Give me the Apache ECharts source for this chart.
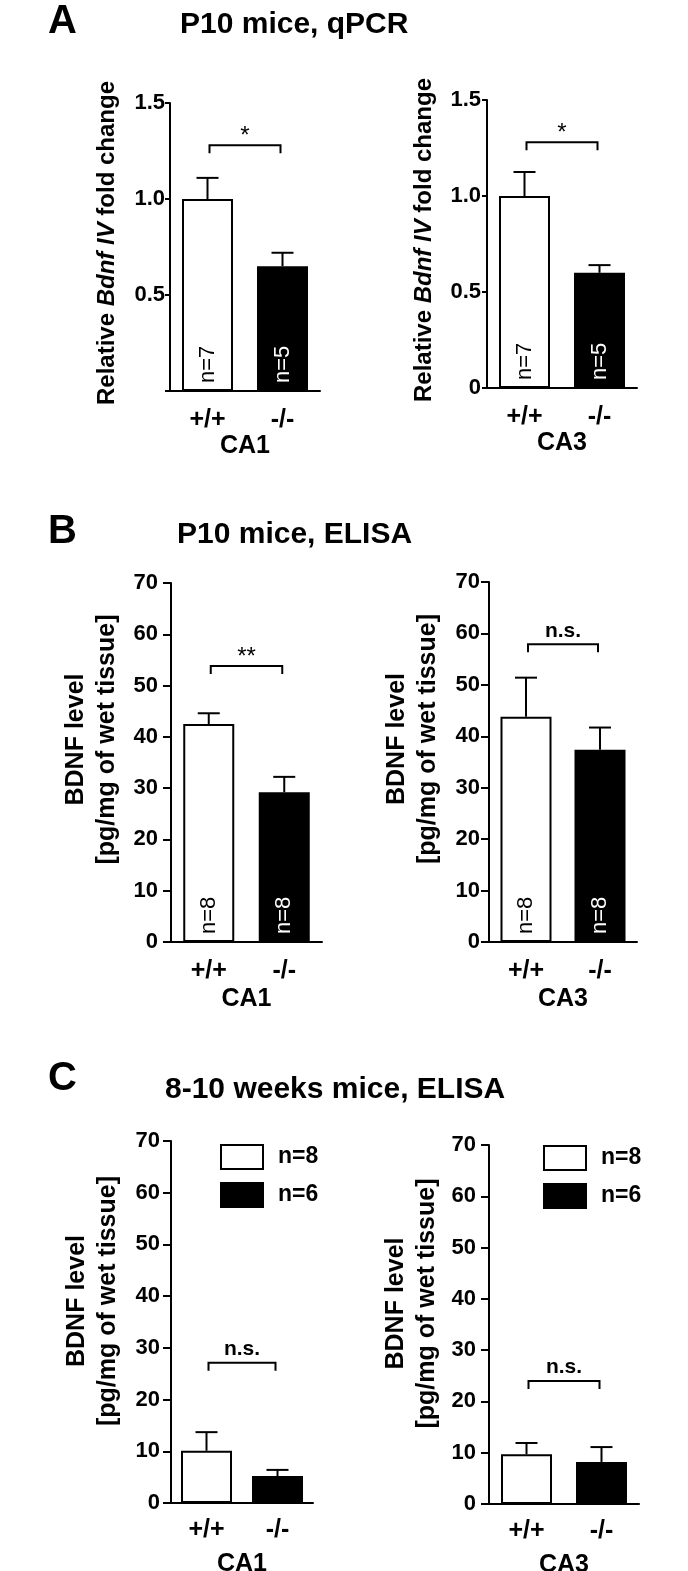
<!DOCTYPE html>
<html>
<head>
<meta charset="utf-8">
<script src="https://cdn.jsdelivr.net/npm/echarts@6/dist/echarts.min.js"></script>
<style>
html,body{margin:0;padding:0;background:#fff;}
#c{width:688px;height:1571px;}
</style>
</head>
<body>
<div id="c"></div>
<script>
// ---------- data ----------
const genotypes = ['+/+', '-/-'];
const regions = ['CA1', 'CA3'];
const panelLetters = ['A', 'B', 'C'];
const panelTitles = ['P10 mice, qPCR', 'P10 mice, ELISA', '8-10 weeks mice, ELISA'];

// qPCR (relative Bdnf IV fold change), [CA1, CA3]
const qpcrWT = [1.00, 1.00];
const qpcrWTsem = [0.11, 0.125];
const qpcrKO = [0.65, 0.60];
const qpcrKOsem = [0.07, 0.04];
const qpcrN = [[7, 5], [7, 5]];
const qpcrSig = ['*', '*'];
const qpcrSigY = [1.28, 1.28];
const qpcrTicks = [0, 0.5, 1.0, 1.5];

// P10 ELISA (pg/mg of wet tissue), [CA1, CA3]
const p10WT = [42.5, 43.8];
const p10WTsem = [2.1, 7.6];
const p10KO = [29.2, 37.4];
const p10KOsem = [3.0, 4.3];
const p10N = [[8, 8], [8, 8]];
const p10Sig = ['**', 'n.s.'];
const p10SigY = [53.8, 57.9];

// 8-10 weeks ELISA, [CA1, CA3]
const adultWT = [10.1, 9.7];
const adultWTsem = [3.6, 2.2];
const adultKO = [5.2, 8.2];
const adultKOsem = [1.2, 2.9];
const adultLegend = ['n=8', 'n=6'];
const adultSig = ['n.s.', 'n.s.'];
const adultSigY = [27.1, 24.0];
const elisaTicks = [0, 10, 20, 30, 40, 50, 60, 70];

// ---------- layout ----------
const FONT = 'Liberation Sans, Arial, Helvetica, sans-serif';
const grids = [
  {left: 170, top: 103, width: 150, height: 288},
  {left: 487, top: 100, width: 150, height: 288},
  {left: 171, top: 583, width: 151, height: 359},
  {left: 489, top: 582, width: 148, height: 360},
  {left: 171, top: 1141, width: 142, height: 362},
  {left: 489, top: 1145, width: 150, height: 359}
];

const panels = [];
for (let r = 0; r < 2; r++) panels.push({ticks: qpcrTicks, wt: qpcrWT[r], wtS: qpcrWTsem[r], ko: qpcrKO[r], koS: qpcrKOsem[r], n: qpcrN[r], sig: qpcrSig[r], sigY: qpcrSigY[r], region: regions[r], kind: 'q', hideZero: r === 0});
for (let r = 0; r < 2; r++) panels.push({ticks: elisaTicks, wt: p10WT[r], wtS: p10WTsem[r], ko: p10KO[r], koS: p10KOsem[r], n: p10N[r], sig: p10Sig[r], sigY: p10SigY[r], region: regions[r], kind: 'e'});
for (let r = 0; r < 2; r++) panels.push({ticks: elisaTicks, wt: adultWT[r], wtS: adultWTsem[r], ko: adultKO[r], koS: adultKOsem[r], n: null, sig: adultSig[r], sigY: adultSigY[r], region: regions[r], kind: 'e', legend: true});

const xNameGap = [40, 40, 45, 45, 49, 49];
const xLabelMargin = [17, 17, 17, 17, 15, 15];
const yNameGap = [51, 51, 48, 45, 47, 46];
const yNameShift = [8, 8, 46, 46, 42, 42];
const yLabelMargin = [5, 6, 13, 9, 11, 13];
const yTickLen = [5, 5, 8, 8, 8, 8];

const option = {
  animation: false,
  backgroundColor: '#fff',
  textStyle: {fontFamily: FONT, color: '#000'},
  grid: grids.map(g => Object.assign({containLabel: false, outerBoundsMode: 'none'}, g)),
  xAxis: [], yAxis: [], series: [],
  legend: [],
  graphic: []
};

panels.forEach((p, i) => {
  const tmin = p.ticks[0], tmax = p.ticks[p.ticks.length - 1], step = p.ticks[1] - p.ticks[0];
  option.xAxis.push({
    gridIndex: i, type: 'category', data: genotypes,
    axisLine: {lineStyle: {color: '#000', width: 2}},
    axisTick: {alignWithLabel: true, length: 7, lineStyle: {color: '#000', width: 2}},
    axisLabel: {color: '#000', fontSize: 25, fontWeight: 'bold', margin: xLabelMargin[i], fontFamily: FONT},
    name: p.region, nameLocation: 'middle', nameGap: xNameGap[i],
    nameTextStyle: {color: '#000', fontSize: 25, fontWeight: 'bold', fontFamily: FONT}
  });
  const yName = p.kind === 'q'
    ? '{n|Relative }{i|Bdnf IV}{n| fold change}'
    : 'BDNF level\n[pg/mg of wet tissue]';
  option.yAxis.push({
    gridIndex: i, type: 'value', min: tmin, max: tmax, interval: step,
    axisLine: {show: true, lineStyle: {color: '#000', width: 2}},
    axisTick: {show: true, length: yTickLen[i], lineStyle: {color: '#000', width: 2}},
    splitLine: {show: false},
    axisLabel: {
      color: '#000', fontSize: 22, fontWeight: 'bold', margin: yLabelMargin[i], fontFamily: FONT,
      formatter: (v) => {
        if (v === 0) return p.hideZero ? '' : '0';
        return p.kind === 'q' ? v.toFixed(1) : String(v);
      }
    },
    name: yName, nameLocation: 'middle', nameGap: yNameGap[i], nameRotate: 90,
    nameTextStyle: p.kind === 'q'
      ? {color: '#000', padding: [0, 0, 0, yNameShift[i]], rich: {
          n: {fontSize: 24, fontWeight: 'bold', color: '#000', fontFamily: FONT},
          i: {fontSize: 24, fontWeight: 'bold', fontStyle: 'italic', color: '#000', fontFamily: FONT}}}
      : {color: '#000', fontSize: 25, fontWeight: 'bold', lineHeight: 31, fontFamily: FONT,
         padding: [0, 0, 0, yNameShift[i]]}
  });

  const wtName = p.legend ? adultLegend[0] : ('wt' + i);
  const koName = p.legend ? adultLegend[1] : ('ko' + i);
  const nLabel = (idx, color) => p.n ? {
    show: true, position: 'insideBottom', rotate: 90, align: 'left', verticalAlign: 'middle',
    distance: 8, fontSize: 22, color: color, fontFamily: FONT,
    formatter: () => 'n=' + p.n[idx]
  } : {show: false};

  option.series.push({
    type: 'bar', name: wtName, xAxisIndex: i, yAxisIndex: i,
    data: [p.wt, '-'], barWidth: 51, barGap: '-100%',
    itemStyle: {color: '#fff', borderColor: '#000', borderWidth: 2},
    label: nLabel(0, '#000'), emphasis: {disabled: true}, silent: true
  });
  option.series.push({
    type: 'bar', name: koName, xAxisIndex: i, yAxisIndex: i,
    data: ['-', p.ko], barWidth: 51, barGap: '-100%',
    itemStyle: {color: '#000', borderColor: '#000', borderWidth: 2},
    label: nLabel(1, '#fff'), emphasis: {disabled: true}, silent: true
  });
  // error bars (upper whisker only)
  option.series.push({
    type: 'custom', xAxisIndex: i, yAxisIndex: i, silent: true, z: 5,
    data: [[0, p.wt, p.wtS], [1, p.ko, p.koS]],
    encode: {x: 0, y: 1},
    renderItem: (params, api) => {
      const x = api.value(0), m = api.value(1), s = api.value(2);
      const a = api.coord([x, m]), b = api.coord([x, m + s]);
      const cap = 11;
      return {type: 'group', children: [
        {type: 'line', shape: {x1: a[0], y1: a[1], x2: b[0], y2: b[1]}, style: {stroke: '#000', lineWidth: 2}},
        {type: 'line', shape: {x1: b[0] - cap, y1: b[1], x2: b[0] + cap, y2: b[1]}, style: {stroke: '#000', lineWidth: 2}}
      ]};
    }
  });
  // significance bracket
  option.series.push({
    type: 'custom', xAxisIndex: i, yAxisIndex: i, silent: true, z: 5,
    data: [[0, 1, p.sigY]],
    encode: {x: [0, 1], y: 2},
    renderItem: (params, api) => {
      const y = api.value(2);
      const a = api.coord([api.value(0), y]), b = api.coord([api.value(1), y]);
      const drop = 8;
      const isStar = p.sig.indexOf('*') >= 0;
      return {type: 'group', children: [
        {type: 'polyline', shape: {points: [[a[0] + 2, a[1] + drop], [a[0] + 2, a[1]], [b[0] - 2, b[1]], [b[0] - 2, b[1] + drop]]},
         style: {stroke: '#000', lineWidth: 2, fill: null}},
        {type: 'text', style: {
          text: p.sig, x: (a[0] + b[0]) / 2, y: a[1] - (isStar ? -3 : 3),
          align: 'center', verticalAlign: 'bottom',
          font: (isStar ? 'normal ' : 'bold ') + (isStar ? 24 : 21) + 'px ' + FONT, fill: '#000'
        }}
      ]};
    }
  });
});

// legends for the 8-10 week panels
[[220, 1144], [543, 1145]].forEach(pos => {
  option.legend.push({
    left: pos[0], top: pos[1], orient: 'vertical', data: adultLegend, padding: 0,
    icon: 'rect', itemWidth: 42, itemHeight: 24, itemGap: 12, selectedMode: false,
    textStyle: {fontSize: 23, fontWeight: 'bold', color: '#000', fontFamily: FONT, padding: [0, 0, 0, 10]},
    itemStyle: {borderColor: '#000', borderWidth: 2}
  });
});

// panel letters and titles
const letterTop = [2, 512, 1059];
const titleTop = [10, 520, 1075];
const titleLeft = [180, 177, 165];
panelLetters.forEach((L, k) => {
  option.graphic.push({type: 'text', left: 48, top: letterTop[k],
    style: {text: L, font: 'bold 40px ' + FONT, fill: '#000'}});
  option.graphic.push({type: 'text', left: titleLeft[k], top: titleTop[k],
    style: {text: panelTitles[k], font: 'bold 30px ' + FONT, fill: '#000'}});
});

const chart = echarts.init(document.getElementById('c'), null, {renderer: 'canvas'});
chart.setOption(option);
</script>
</body>
</html>
